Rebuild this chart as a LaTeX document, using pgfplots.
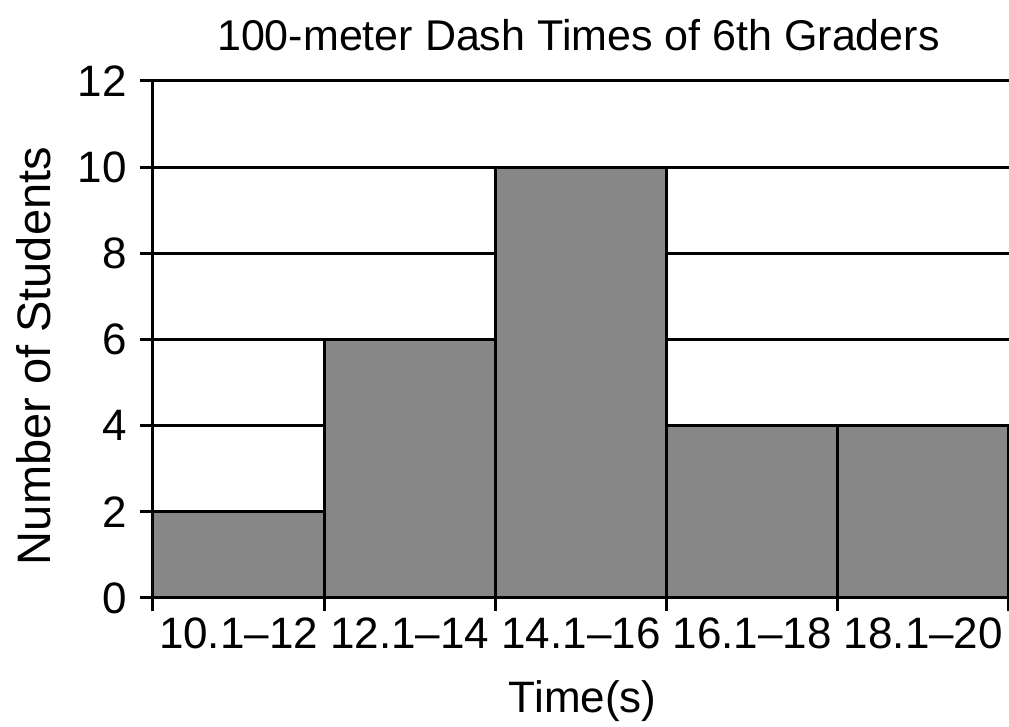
\documentclass[border=0pt]{standalone}
\usepackage{fontspec}
\setmainfont{Liberation Sans}
\usepackage{pgfplots}
\pgfplotsset{compat=1.18}
\begin{document}
\begin{tikzpicture}
\begin{axis}[
  scale only axis,
  width=428pt, height=258.5pt,
  xmin=0, xmax=5, ymin=0, ymax=12,
  axis x line*=bottom, axis y line*=left,
  axis line style={line width=1.5pt},
  every tick/.style={black, line width=1.5pt},
  tick align=outside,
  major tick length=6.5pt,
  xtick={0,1,2,3,4,5},
  x tick label as interval,
  xticklabels={10.1–12,12.1–14,14.1–16,16.1–18,18.1–20},
  ytick={0,2,4,6,8,10,12},
  ymajorgrids,
  grid style={black, line width=1.5pt},
  /pgf/number format/assume math mode=true,
  tick label style={font=\fontsize{22}{26}\selectfont},
  yticklabel style={xshift=-3pt},
  title={100-meter Dash Times of 6th Graders},
  title style={font=\fontsize{21.5}{26}\selectfont, at={(axis description cs:0.497,1)}, anchor=center, yshift=17pt},
  ylabel={Number of Students},
  ylabel style={font=\fontsize{23.5}{28}\selectfont, at={(axis description cs:-0.139,0.468)}, anchor=center},
  xlabel={Time(s)},
  xlabel style={font=\fontsize{22}{26}\selectfont, at={(axis description cs:0.502,-0.2)}, anchor=center},
]
\addplot[ybar interval, fill=black!47, draw=black, line width=1.5pt]
  coordinates {(0,2) (1,6) (2,10) (3,4) (4,4) (5,4)};
\end{axis}
\pgfresetboundingbox
\path[use as bounding box] (-76.5pt,-64.5pt) rectangle (428pt,299pt);
\end{tikzpicture}
\end{document}
